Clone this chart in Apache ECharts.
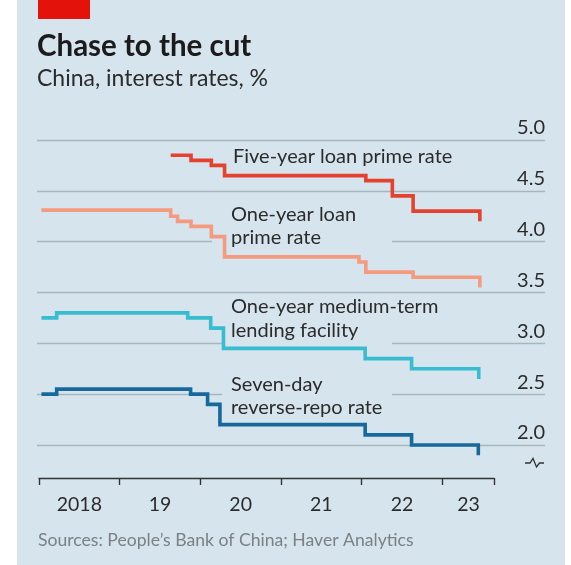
<!DOCTYPE html>
<html>
<head>
<meta charset="utf-8">
<script src="https://cdn.jsdelivr.net/npm/echarts@6/dist/echarts.min.js"></script>
<style>
  html, body { margin: 0; padding: 0; background: #ffffff; }
  #wrap {
    width: 571px; height: 565px;
    background: linear-gradient(to right, #ffffff 0, #ffffff 17px, #d6e4ed 17px, #d6e4ed 565px, #ffffff 565px);
  }
  #chart { width: 571px; height: 565px; }
</style>
</head>
<body>
<div id="wrap"><div id="chart"></div></div>
<script>
// Policy and benchmark rates, % — each entry is [effective date, new rate]
const fiveYearLPR = [
  ['2019-08-20', 4.85], ['2019-11-20', 4.80], ['2020-02-20', 4.75], ['2020-04-20', 4.65],
  ['2022-01-20', 4.60], ['2022-05-20', 4.45], ['2022-08-22', 4.30], ['2023-06-20', 4.20]
];
const oneYearLPR = [
  ['2018-01-12', 4.31], ['2019-08-20', 4.25], ['2019-09-20', 4.20], ['2019-11-20', 4.15],
  ['2020-02-20', 4.05], ['2020-04-20', 3.85], ['2021-12-20', 3.80], ['2022-01-20', 3.70],
  ['2022-08-22', 3.65], ['2023-06-20', 3.55]
];
const oneYearMLF = [
  ['2018-01-12', 3.25], ['2018-03-22', 3.30], ['2019-11-05', 3.25], ['2020-02-17', 3.15],
  ['2020-04-15', 2.95], ['2022-01-17', 2.85], ['2022-08-15', 2.75], ['2023-06-15', 2.65]
];
const sevenDayRepo = [
  ['2018-01-12', 2.50], ['2018-03-22', 2.55], ['2019-11-18', 2.50], ['2020-02-03', 2.40],
  ['2020-03-30', 2.20], ['2022-01-17', 2.10], ['2022-08-15', 2.00], ['2023-06-13', 1.90]
];

const yearLabels = ['2018', '19', '20', '21', '22', '23'];
const firstYear = 2018;
const lastDate = '2023-08-23';
const yMin = 2.0, yMax = 5.0, yStep = 0.5;

// date string -> fractional calendar year
function toYear(d) {
  const [y, m, day] = d.split('-').map(Number);
  const start = Date.UTC(y, 0, 1), end = Date.UTC(y + 1, 0, 1);
  return y + (Date.UTC(y, m - 1, day) - start) / (end - start);
}
const toXY = arr => arr.map(([d, v]) => [toYear(d), v]);
const xMax = toYear(lastDate);

const BG = '#d6e4ed';
const TEXT = '#2b2b2b';
const FONT = 'Lato, "Noto Sans", sans-serif';

function lineSeries(name, data, color) {
  return {
    name, type: 'line', step: 'end', data: toXY(data),
    xAxisIndex: 0, yAxisIndex: 0,
    showSymbol: false, clip: false, z: 3,
    lineStyle: { color, width: 3.6, cap: 'butt', join: 'miter' },
    emphasis: { disabled: true }
  };
}

function label(text, x, y) {
  return { type: 'text', z: 4, style: { text, x, y, font: '20px ' + FONT, fill: TEXT, verticalAlign: 'middle', align: 'left' } };
}
function mask(x, y, w, h) {
  return { type: 'rect', z: 1, shape: { x, y, width: w, height: h }, style: { fill: BG } };
}

const chart = echarts.init(document.getElementById('chart'), null, { renderer: 'canvas' });
chart.setOption({
  backgroundColor: 'transparent',
  animation: false,
  textStyle: { fontFamily: FONT },
  title: [
    { text: 'Chase to the cut', left: 37, top: 31, padding: 0, textStyle: { fontFamily: FONT, fontWeight: 'bold', fontSize: 29.5, color: '#1b1b1b' } },
    { text: 'China, interest rates, %', left: 37, top: 67, padding: 0, textStyle: { fontFamily: FONT, fontWeight: 'normal', fontSize: 23, color: TEXT } },
    { text: 'Sources: People\u2019s Bank of China; Haver Analytics', left: 38, top: 531, padding: 0, textStyle: { fontFamily: FONT, fontWeight: 'normal', fontSize: 17.6, color: '#7b8085' } }
  ],
  grid: [
    { left: 39, width: 455, top: 140, height: 305 },
    { left: 37, right: 26, top: 140, height: 305 }
  ],
  xAxis: [
    {
      gridIndex: 0, type: 'value', position: 'bottom', min: firstYear, max: xMax, interval: 1, offset: 33,
      axisLine: { show: true, lineStyle: { color: '#333333', width: 1.4 } },
      axisTick: { show: true, length: 7, lineStyle: { color: '#333333', width: 1.4 } },
      axisLabel: { show: false }, splitLine: { show: false }
    },
    {
      gridIndex: 0, type: 'value', position: 'bottom', min: firstYear, max: xMax, interval: 0.5, offset: 33,
      axisLine: { show: false }, axisTick: { show: false }, splitLine: { show: false },
      axisLabel: {
        show: true, margin: 17, fontSize: 19.5, color: TEXT, fontFamily: FONT,
        formatter: v => {
          const frac = v - Math.floor(v);
          if (Math.abs(frac - 0.5) > 1e-6) return '';
          const i = Math.floor(v) - firstYear;
          // last year is only partly covered: centre its label in that stub
          return i === yearLabels.length - 1 ? '{s|' + yearLabels[i] + '}' : yearLabels[i];
        },
        rich: { s: { fontSize: 19.5, color: TEXT, fontFamily: FONT, padding: [0, 28, 0, 0] } }
      }
    },
    { gridIndex: 1, type: 'value', position: 'bottom', min: 0, max: 1, show: false }
  ],
  yAxis: [
    { gridIndex: 0, type: 'value', min: yMin, max: yMax, interval: yStep, show: false },
    {
      gridIndex: 1, type: 'value', min: yMin, max: yMax, interval: yStep, position: 'right',
      axisLine: { show: false }, axisTick: { show: false },
      splitLine: { show: true, lineStyle: { color: '#a9b5bd', width: 1.3 } },
      axisLabel: {
        inside: true, margin: 0, fontSize: 20, color: TEXT, fontFamily: FONT,
        verticalAlign: 'bottom', padding: [0, 0, 2, 0],
        formatter: v => v.toFixed(1)
      }
    }
  ],
  series: [
    lineSeries('Five-year loan prime rate', fiveYearLPR, '#e4412f'),
    lineSeries('One-year loan prime rate', oneYearLPR, '#f59a7f'),
    lineSeries('One-year medium-term lending facility', oneYearMLF, '#38bcd0'),
    lineSeries('Seven-day reverse-repo rate', sevenDayRepo, '#17699c')
  ],
  graphic: [
    { type: 'rect', z: 5, shape: { x: 38, y: 0, width: 52, height: 19 }, style: { fill: '#e3120b' } },
    mask(212, 238, 180, 8),
    mask(222, 339, 170, 8),
    mask(222, 390, 170, 8),
    label('Five-year loan prime rate', 233, 157),
    label('One-year loan', 231, 215),
    label('prime rate', 231, 238),
    label('One-year medium-term', 231, 307),
    label('lending facility', 231, 331),
    label('Seven-day', 231, 385),
    label('reverse-repo rate', 231, 408),
    // axis break marker below the lowest gridline
    { type: 'polyline', z: 5, shape: { points: [[525, 463], [530, 463], [533, 458.5], [536.5, 467], [539.5, 463], [544, 463]] },
      style: { stroke: '#333333', lineWidth: 1.3, fill: null } }
  ]
});
</script>
</body>
</html>
